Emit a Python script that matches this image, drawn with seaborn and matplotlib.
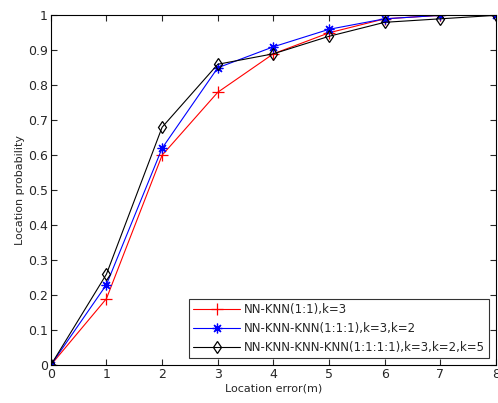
import numpy as np
import pandas as pd
import matplotlib
matplotlib.use('Agg')
import matplotlib.pyplot as plt
import seaborn as sns

# Location error (m)
error_m = [0, 1, 2, 3, 4, 5, 6, 7, 8]

# Location probability for each method
nn_knn = [0.0, 0.19, 0.60, 0.78, 0.89, 0.95, 0.99, 1.0, 1.0]
nn_knn_knn = [0.0, 0.23, 0.62, 0.85, 0.91, 0.96, 0.99, 1.0, 1.0]
nn_knn_knn_knn = [0.0, 0.26, 0.68, 0.86, 0.89, 0.94, 0.98, 0.99, 1.0]

labels = ['NN-KNN(1:1),k=3',
          'NN-KNN-KNN(1:1:1),k=3,k=2',
          'NN-KNN-KNN-KNN(1:1:1:1),k=3,k=2,k=5']

sns.set_style('white')
plt.rcParams['font.family'] = ['DejaVu Sans']

fig = plt.figure(figsize=(4.98, 4.03), dpi=100)
ax = fig.add_axes([0.102, 0.094, 0.894, 0.868])

# matlab-like markers: plus, asterisk, thin open diamond
styles = [('red', '+', 8), ('blue', (8, 2, 0), 7), ('black', 'd', 6)]
for vals, lab, (c, m, ms) in zip([nn_knn, nn_knn_knn, nn_knn_knn_knn], labels, styles):
    df = pd.DataFrame({'err': error_m, 'prob': vals})
    sns.lineplot(data=df, x='err', y='prob', ax=ax, color=c, marker=m,
                 markersize=ms, linewidth=0.8, label=lab,
                 markerfacecolor='none' if m == 'd' else c,
                 markeredgecolor=c, markeredgewidth=0.9)

ax.set_xlim(0, 8)
ax.set_ylim(0, 1)
ax.set_xticks(range(0, 9))
ax.set_yticks(np.arange(0, 1.01, 0.1))
ax.set_yticklabels(['0', '0.1', '0.2', '0.3', '0.4', '0.5', '0.6', '0.7', '0.8', '0.9', '1'])
ax.tick_params(direction='in', length=4, labelsize=9, top=True, right=True,
               bottom=True, left=True, pad=2)
for s in ax.spines.values():
    s.set_color('black')
    s.set_linewidth(0.8)

ax.set_xlabel('Location error(m)', fontsize=8, labelpad=2)
ax.set_ylabel('Location probability', fontsize=8, labelpad=2)

leg = ax.legend(loc='lower right', fontsize=8.5, frameon=True, fancybox=False,
                edgecolor='black', handlelength=4, borderpad=0.35,
                labelspacing=0.5, handletextpad=0.3, borderaxespad=0.6)
leg.get_frame().set_linewidth(0.8)

fig.savefig('out.png', dpi=100)
